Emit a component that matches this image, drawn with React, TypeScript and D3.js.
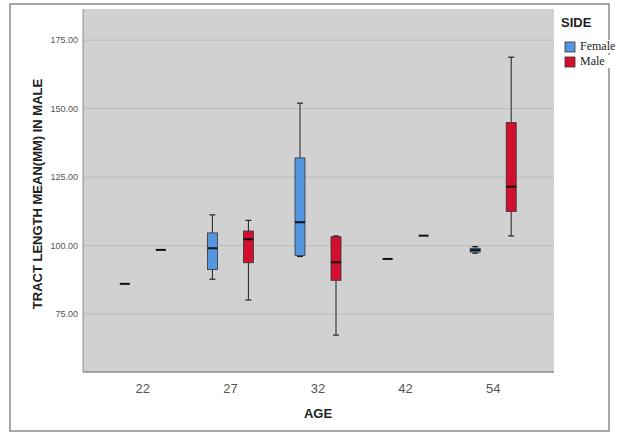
import React from 'react'
import * as d3 from 'd3'

const ages = ['22', '27', '32', '42', '54']
const sides = ['Female', 'Male']

// five-number summaries per age
const femaleMin = [86.0, 87.7, 96.0, 95.1, 97.2]
const femaleQ1 = [86.0, 91.2, 96.4, 95.1, 97.6]
const femaleMed = [86.0, 99.0, 108.5, 95.1, 98.3]
const femaleQ3 = [86.0, 104.6, 132.0, 95.1, 99.0]
const femaleMax = [86.0, 111.2, 152.0, 95.1, 99.6]

const maleMin = [98.4, 80.1, 67.3, 103.6, 103.5]
const maleQ1 = [98.4, 93.7, 87.3, 103.6, 112.4]
const maleMed = [98.4, 102.3, 93.9, 103.6, 121.5]
const maleQ3 = [98.4, 105.3, 103.2, 103.6, 144.9]
const maleMax = [98.4, 109.2, 103.5, 103.6, 168.8]

const yTicks = [75, 100, 125, 150, 175]

const colors: Record<string, string> = { Female: '#5596e0', Male: '#d20f2f' }

const W = 618
const H = 433
const plot = { left: 83, right: 554, top: 9, bottom: 372 }

function App() {
  const x = d3.scaleBand().domain(ages).range([99, 537])
  const sub = d3.scalePoint().domain(sides).range([-18, 18])
  const y = d3.scaleLinear().domain([53.8, 186.4]).range([plot.bottom, plot.top])

  const series = [
    { side: 'Female', min: femaleMin, q1: femaleQ1, med: femaleMed, q3: femaleQ3, max: femaleMax },
    { side: 'Male', min: maleMin, q1: maleQ1, med: maleMed, q3: maleQ3, max: maleMax },
  ]
  const boxW = 10
  const capW = 6

  return (
    <svg width={W} height={H} style={{ position: 'absolute', left: 0, top: 0, background: '#fff' }}
      fontFamily="Arial, 'Liberation Sans', sans-serif">
      <rect x={10} y={4} width={599} height={427} fill="#fff" stroke="#8a8a8a" strokeWidth={1.5} />
      <rect x={plot.left} y={plot.top} width={plot.right - plot.left} height={plot.bottom - plot.top} fill="#d1d1d1" />
      {yTicks.map((t) => (
        <g key={t}>
          <line x1={plot.left} x2={plot.right} y1={y(t)} y2={y(t)} stroke="#bcbcbc" strokeWidth={1} />
          <text x={78} y={y(t)} dy="0.35em" textAnchor="end" fontSize={9} fill="#555">{t.toFixed(2)}</text>
        </g>
      ))}
      <line x1={plot.left} x2={plot.left} y1={plot.top} y2={plot.bottom} stroke="#8c8c8c" />
      <line x1={plot.left} x2={plot.right} y1={plot.bottom} y2={plot.bottom} stroke="#8c8c8c" strokeWidth={1.5} />

      {series.map((s) => (
        <g key={s.side}>
          {ages.map((a, i) => {
            const cx = (x(a) as number) + x.bandwidth() / 2 + (sub(s.side) as number)
            const single = s.min[i] === s.max[i]
            if (single) {
              return <line key={a} x1={cx - 5} x2={cx + 5} y1={y(s.med[i])} y2={y(s.med[i])} stroke="#111" strokeWidth={2} />
            }
            return (
              <g key={a}>
                <line x1={cx} x2={cx} y1={y(s.max[i])} y2={y(s.min[i])} stroke="#222" strokeWidth={1} />
                <line x1={cx - capW / 2} x2={cx + capW / 2} y1={y(s.max[i])} y2={y(s.max[i])} stroke="#222" strokeWidth={1.2} />
                <line x1={cx - capW / 2} x2={cx + capW / 2} y1={y(s.min[i])} y2={y(s.min[i])} stroke="#222" strokeWidth={1.2} />
                <rect x={cx - boxW / 2} y={y(s.q3[i])} width={boxW} height={y(s.q1[i]) - y(s.q3[i])}
                  fill={colors[s.side]} stroke="#333" strokeWidth={0.8} />
                <line x1={cx - boxW / 2} x2={cx + boxW / 2} y1={y(s.med[i])} y2={y(s.med[i])} stroke="#111" strokeWidth={2} />
              </g>
            )
          })}
        </g>
      ))}

      {ages.map((a) => (
        <text key={a} x={(x(a) as number) + x.bandwidth() / 2} y={393} textAnchor="middle" fontSize={13} fill="#555">{a}</text>
      ))}
      <text x={318} y={418} textAnchor="middle" fontSize={13} fontWeight="bold" fill="#222">AGE</text>
      <text transform="translate(42,194) rotate(-90)" textAnchor="middle" fontSize={13} fontWeight="bold" fill="#222">
        TRACT LENGTH MEAN(MM) IN MALE
      </text>

      <text x={561} y={27} fontSize={13} fontWeight="bold" fill="#222">SIDE</text>
      {sides.map((s, i) => (
        <g key={s}>
          <rect x={565} y={42 + i * 15} width={10} height={10} fill={colors[s]} stroke="#333" strokeWidth={0.8} />
          <rect x={580} y={40 + i * 15} width={38} height={13} fill="#fff" />
          <text x={580} y={50 + i * 15} fontSize={12} fontFamily="'Liberation Serif', 'DejaVu Serif', serif" fill="#222">{s}</text>
        </g>
      ))}
    </svg>
  )
}

export default App
